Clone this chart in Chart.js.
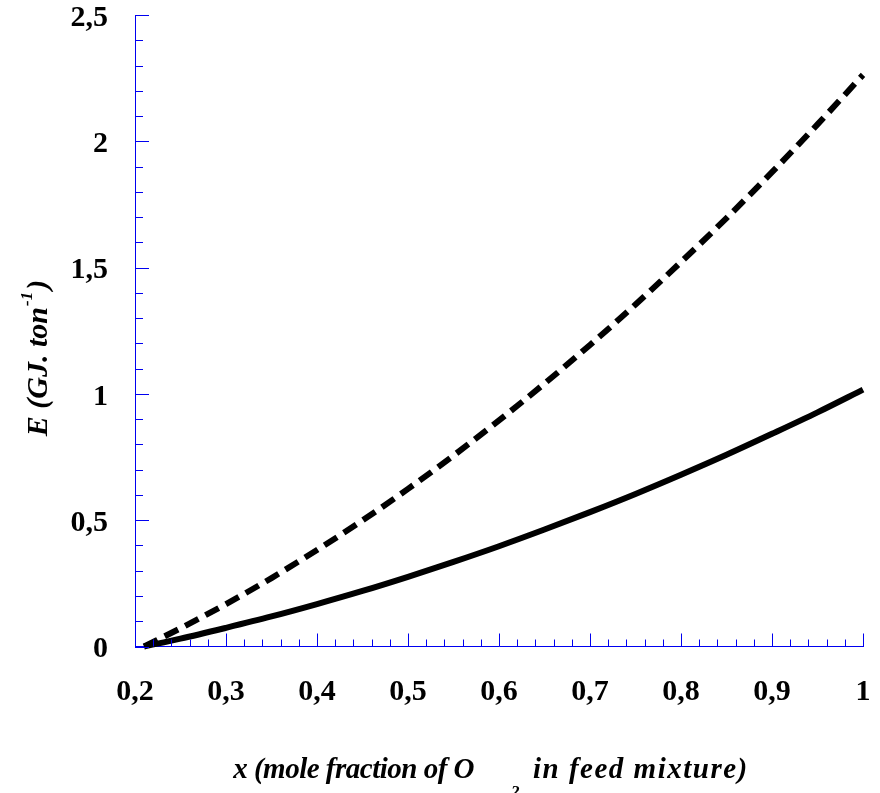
<!DOCTYPE html>
<html><head><meta charset="utf-8">
<script src="https://cdn.jsdelivr.net/npm/chart.js@4.4.1/dist/chart.umd.min.js"></script>
<style>html,body{margin:0;padding:0;background:#fff}#wrap{width:880px;height:793px;position:relative}</style>
</head><body><div id="wrap"><canvas id="c"></canvas></div>
<script>
// ---- data ----
const xValues      = [0.21, 0.25, 0.30, 0.35, 0.40, 0.45, 0.50, 0.55, 0.60, 0.65, 0.70, 0.75, 0.80, 0.85, 0.90, 0.95, 1.00];
const solidSeries  = [0.000, 0.031, 0.074, 0.119, 0.168, 0.220, 0.276, 0.335, 0.397, 0.463, 0.532, 0.604, 0.680, 0.759, 0.842, 0.927, 1.017];
const dashedSeries = [0.000, 0.072, 0.168, 0.271, 0.382, 0.499, 0.624, 0.756, 0.895, 1.041, 1.194, 1.354, 1.522, 1.696, 1.878, 2.067, 2.263];
const xTickLabels  = ['0,2', '0,3', '0,4', '0,5', '0,6', '0,7', '0,8', '0,9', '1'];
const yTickLabels  = ['0', '0,5', '1', '1,5', '2', '2,5'];
const xTitleParts  = ['x (mole fraction of O', '2', 'in feed mixture)'];
const yTitleParts  = ['E (GJ. ton', '-1', ')'];

const AXIS = '#0000f0';
const tickFont = {family: 'Liberation Serif', size: 30, weight: 'bold'};

const minorTicks = {
  id: 'minorTicks',
  afterDraw(chart) {
    const ctx = chart.ctx, xs = chart.scales.x, ys = chart.scales.y;
    ctx.save();
    ctx.strokeStyle = AXIS; ctx.lineWidth = 1;
    ctx.beginPath();
    for (let i = 0; i <= 40; i++) {
      const v = xs.min + i * 0.02;
      const px = Math.round(xs.getPixelForValue(v)) + 0.5;
      const len = (i % 5 === 0) ? 13 : 7;
      ctx.moveTo(px, ys.bottom); ctx.lineTo(px, ys.bottom - len);
    }
    for (let i = 0; i <= 25; i++) {
      const v = i * 0.1;
      const py = Math.round(ys.getPixelForValue(v)) + 0.5;
      const len = (i % 5 === 0) ? 14 : 8;
      ctx.moveTo(xs.left, py); ctx.lineTo(xs.left + len, py);
    }
    ctx.stroke();
    ctx.restore();
  }
};

const titles = {
  id: 'titles',
  afterDraw(chart) {
    const ctx = chart.ctx;
    ctx.save();
    ctx.fillStyle = '#000';
    ctx.textBaseline = 'alphabetic';
    // x title
    ctx.font = 'italic bold 29px "Liberation Serif"';
    ctx.letterSpacing = '-0.5px';
    ctx.textAlign = 'right';
    ctx.fillText(xTitleParts[0], 474, 778);
    ctx.letterSpacing = '0px';
    ctx.font = 'italic bold 17px "Liberation Serif"';
    ctx.textAlign = 'left';
    ctx.fillText(xTitleParts[1], 511, 797);
    ctx.font = 'italic bold 29px "Liberation Serif"';
    ctx.letterSpacing = '1.5px';
    ctx.fillText(xTitleParts[2], 533, 778);
    ctx.letterSpacing = '0px';
    // y title (rotated)
    ctx.translate(47, 358);
    ctx.rotate(-Math.PI / 2);
    const big = 'italic bold 30px "Liberation Serif"', small = 'italic bold 17px "Liberation Serif"';
    ctx.font = big; const w0 = ctx.measureText(yTitleParts[0]).width; const w2 = ctx.measureText(yTitleParts[2]).width;
    ctx.font = small; const w1 = ctx.measureText(yTitleParts[1]).width;
    let x0 = -(w0 + w1 + w2 + 3) / 2;
    ctx.textAlign = 'left';
    ctx.font = big; ctx.fillText(yTitleParts[0], x0, 0);
    ctx.font = small; ctx.fillText(yTitleParts[1], x0 + w0 + 1, -15);
    ctx.font = big; ctx.fillText(yTitleParts[2], x0 + w0 + w1 + 3, 0);
    ctx.restore();
  }
};

new Chart(document.getElementById('c'), {
  type: 'line',
  data: {
    datasets: [
      {
        data: xValues.map((x, i) => ({x, y: solidSeries[i]})),
        borderColor: '#000', borderWidth: 6, pointRadius: 0,
        cubicInterpolationMode: 'monotone', fill: false, clip: false
      },
      {
        data: xValues.map((x, i) => ({x, y: dashedSeries[i]})),
        borderColor: '#000', borderWidth: 6, borderDash: [15, 8], pointRadius: 0,
        cubicInterpolationMode: 'monotone', fill: false, clip: false
      }
    ]
  },
  options: {
    responsive: true, maintainAspectRatio: false, animation: false,
    layout: {padding: {top: 15, right: 17, left: 0, bottom: 0}},
    plugins: {legend: {display: false}, tooltip: {enabled: false}},
    scales: {
      x: {
        type: 'linear', min: 0.2, max: 1,
        grid: {display: false, drawTicks: false},
        border: {display: true, color: AXIS, width: 1},
        ticks: {
          stepSize: 0.1, padding: 28, color: '#000', font: tickFont,
          maxRotation: 0, autoSkip: false,
          callback: (v, i) => xTickLabels[i]
        },
        afterFit(s) { s.height = 793 - 646.5; s.paddingLeft = 0; s.paddingRight = 0; }
      },
      y: {
        type: 'linear', min: 0, max: 2.5,
        grid: {display: false, drawTicks: false},
        border: {display: true, color: AXIS, width: 1},
        ticks: {
          stepSize: 0.5, padding: 27, color: '#000', font: tickFont,
          autoSkip: false, labelOffset: 3,
          callback: (v, i) => yTickLabels[i]
        },
        afterFit(s) { s.width = 135; s.paddingTop = 0; s.paddingBottom = 0; }
      }
    }
  },
  plugins: [minorTicks, titles]
});
</script>
</body></html>
